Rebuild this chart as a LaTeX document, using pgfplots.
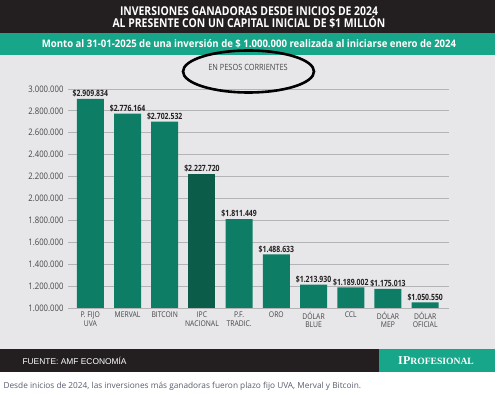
\documentclass[border=0pt]{standalone}
\usepackage{pgfplots}
\pgfplotsset{compat=1.18}
\usepackage{fontspec}
\setmainfont{Open Sans}
\newfontfamily\cond[FakeStretch=0.86]{Open Sans}
\newfontfamily\condv[FakeStretch=0.8]{Open Sans}
\newfontfamily\condb[FakeStretch=0.92]{Open Sans}
\newfontfamily\arialf{Liberation Sans}
\newfontfamily\serifb{Liberation Serif}
\definecolor{hdark}{HTML}{231F20}
\definecolor{band}{HTML}{17A68A}
\definecolor{bggray}{HTML}{E7E7E9}
\definecolor{barg}{HTML}{0E7D66}
\definecolor{bard}{HTML}{0B5C49}
\definecolor{gridg}{HTML}{B4B4B6}
\definecolor{txt}{HTML}{46464A}
\definecolor{capg}{HTML}{5A5E6E}
\begin{document}
\begin{tikzpicture}
\useasboundingbox (0pt,0pt) rectangle (498pt,-395pt);
\fill[white] (0pt,0pt) rectangle (498pt,-395pt);
\fill[bggray] (0pt,-55pt) rectangle (495pt,-349pt);
\fill[hdark] (0pt,0pt) rectangle (495pt,-33pt);
\fill[band] (0pt,-33pt) rectangle (495pt,-55pt);
\node[white, font=\cond\bfseries\fontsize{12.1}{12}\selectfont, align=center] at (249pt,-17.5pt) {INVERSIONES GANADORAS DESDE INICIOS DE 2024\\AL PRESENTE CON UN CAPITAL INICIAL DE \$1 MILLÓN};
\node[white, font=\condb\bfseries\fontsize{10.4}{11}\selectfont] at (249pt,-44pt) {Monto al 31-01-2025 de una inversión de \$ 1.000.000 realizada al iniciarse enero de 2024};
\begin{axis}[at={(68pt,-308pt)}, anchor=south west, scale only axis,
  width=381pt, height=219pt,
  xmin=-0.6, xmax=9.64, ymin=1000000, ymax=3000000,
  ytick={1000000,1200000,1400000,1600000,1800000,2000000,2200000,2400000,2600000,2800000,3000000},
  scaled y ticks=false,
  ymajorgrids, grid style={draw=gridg, line width=0.8pt},
  axis line style={draw=none}, major tick length=0pt,
  xtick={0,1,2,3,4,5,6,7,8,9},
  xticklabels={{P. FIJO\\UVA},{MERVAL},{BITCOIN},{IPC\\NACIONAL},{P.F.\\TRADIC.},{ORO},{DÓLAR\\BLUE},{CCL},{DÓLAR\\MEP},{DÓLAR\\OFICIAL}},
  xticklabel style={align=center, font=\cond\fontsize{7.9}{8.4}\selectfont, text=txt, anchor=north, yshift=-0.5pt},
  yticklabel style={font=\cond\fontsize{9}{9}\selectfont, text=txt, xshift=-1pt,
    /pgf/number format/.cd, fixed, 1000 sep={.}, assume math mode=true},
  ybar, bar width=27pt, bar shift=0pt,
  nodes near coords={\$\pgfmathprintnumber[fixed,precision=0,1000 sep={.},assume math mode=true]{\pgfplotspointmeta}},
  nodes near coords style={font=\condv\bfseries\fontsize{8.6}{9}\selectfont, text=hdark, anchor=south, inner sep=1.5pt},
]
\addplot[fill=barg, draw=none] coordinates {(0,2909834) (1,2776164) (2,2702532) (4,1811449) (5,1488633) (6,1213930) (7,1189002) (8,1175013) (9,1050550)};
\addplot[fill=bard, draw=none] coordinates {(3,2227720)};
\end{axis}
\node[text=txt, font=\cond\fontsize{8.6}{9}\selectfont] at (248pt,-67pt) {EN PESOS CORRIENTES};
\draw[black, line width=2.6pt] (248.5pt,-71.5pt) ellipse [x radius=65.5pt, y radius=21pt];
\fill[hdark] (0pt,-349pt) rectangle (379pt,-372pt);
\fill[band] (379pt,-349pt) rectangle (495pt,-372pt);
\node[white, anchor=west, font=\arialf\fontsize{8.4}{9}\selectfont] at (19pt,-361pt) {FUENTE: AMF ECONOMÍA};
\node[white, font=\serifb\bfseries] at (436pt,-361pt) {\fontsize{12}{12}\selectfont I\kern0.3pt P\fontsize{9.6}{10}\selectfont ROFESIONAL};
\node[text=capg, anchor=west, font=\fontsize{8.3}{9}\selectfont] at (0pt,-386pt) {Desde inicios de 2024, las inversiones más ganadoras fueron plazo fijo UVA, Merval y Bitcoin.};
\end{tikzpicture}
\end{document}
